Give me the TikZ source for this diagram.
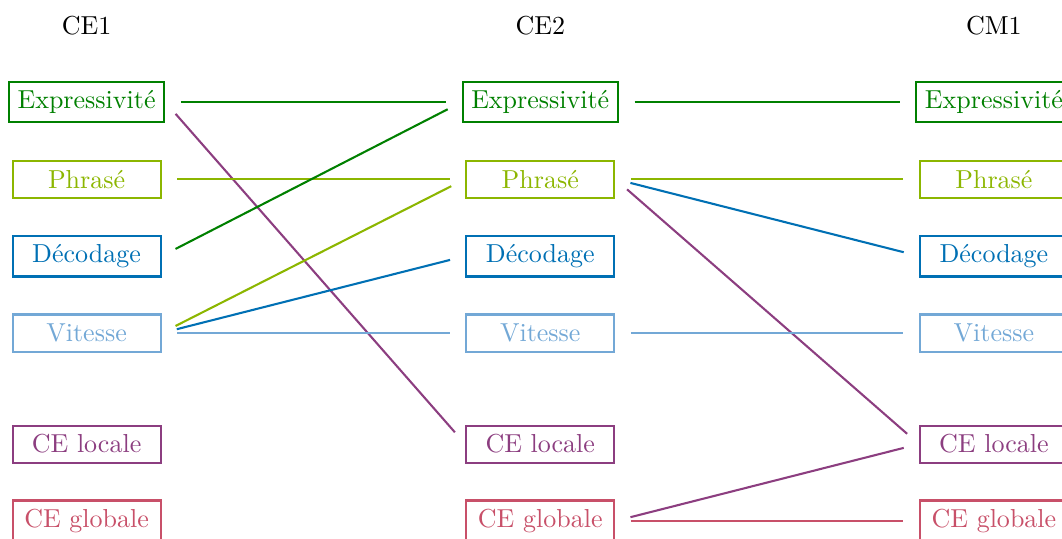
\documentclass[tikz,border=0pt]{standalone}
\usepackage{tikz}
\usetikzlibrary{positioning}
\definecolor{exprgreen}{RGB}{0,128,0}
\definecolor{phrasegreen}{RGB}{140,182,0}
\definecolor{decodblue}{RGB}{0,112,180}
\definecolor{speedblue}{RGB}{115,168,214}
\definecolor{localpurple}{RGB}{140,62,128}
\definecolor{globalpink}{RGB}{200,80,105}

\begin{document}
\begin{tikzpicture}[
  skill/.style={draw=#1, text=#1, thick, minimum width=2cm, minimum height=0.5cm},
  link/.style={thick, #1, shorten <=6pt, shorten >=6pt}
]
  \useasboundingbox (0,0) rectangle (14.35,-7.27);

  % Grades
  \node (ce1) at (1.17,-0.35) {CE1};
  \node (ce2) at (7.30,-0.35) {CE2};
  \node (cm1) at (13.43,-0.35) {CM1};

  % CE1
  \node[skill=exprgreen] (e1) at (1.17,-1.38) {Expressivité};
  \node[skill=phrasegreen] (p1) at (1.17,-2.42) {Phrasé};
  \node[skill=decodblue] (d1) at (1.17,-3.46) {Décodage};
  \node[skill=speedblue] (v1) at (1.17,-4.50) {Vitesse};
  \node[skill=localpurple] (l1) at (1.17,-6.00) {CE locale};
  \node[skill=globalpink] (g1) at (1.17,-7.04) {CE globale};

  % CE2
  \node[skill=exprgreen] (e2) at (7.30,-1.38) {Expressivité};
  \node[skill=phrasegreen] (p2) at (7.30,-2.42) {Phrasé};
  \node[skill=decodblue] (d2) at (7.30,-3.46) {Décodage};
  \node[skill=speedblue] (v2) at (7.30,-4.50) {Vitesse};
  \node[skill=localpurple] (l2) at (7.30,-6.00) {CE locale};
  \node[skill=globalpink] (g2) at (7.30,-7.04) {CE globale};

  % CM1
  \node[skill=exprgreen] (e3) at (13.43,-1.38) {Expressivité};
  \node[skill=phrasegreen] (p3) at (13.43,-2.42) {Phrasé};
  \node[skill=decodblue] (d3) at (13.43,-3.46) {Décodage};
  \node[skill=speedblue] (v3) at (13.43,-4.50) {Vitesse};
  \node[skill=localpurple] (l3) at (13.43,-6.00) {CE locale};
  \node[skill=globalpink] (g3) at (13.43,-7.04) {CE globale};

  % CE1 -> CE2
  \draw[link=exprgreen] (e1.east) -- (e2.west);
  \draw[link=localpurple] (e1.east) -- (l2.west);
  \draw[link=phrasegreen] (p1.east) -- (p2.west);
  \draw[link=exprgreen] (d1.east) -- (e2.west);
  \draw[link=phrasegreen] (v1.east) -- (p2.west);
  \draw[link=decodblue] (v1.east) -- (d2.west);
  \draw[link=speedblue] (v1.east) -- (v2.west);

  % CE2 -> CM1
  \draw[link=exprgreen] (e2.east) -- (e3.west);
  \draw[link=phrasegreen] (p2.east) -- (p3.west);
  \draw[link=decodblue] (p2.east) -- (d3.west);
  \draw[link=localpurple] (p2.east) -- (l3.west);
  \draw[link=speedblue] (v2.east) -- (v3.west);
  \draw[link=localpurple] (g2.east) -- (l3.west);
  \draw[link=globalpink] (g2.east) -- (g3.west);
\end{tikzpicture}
\end{document}
